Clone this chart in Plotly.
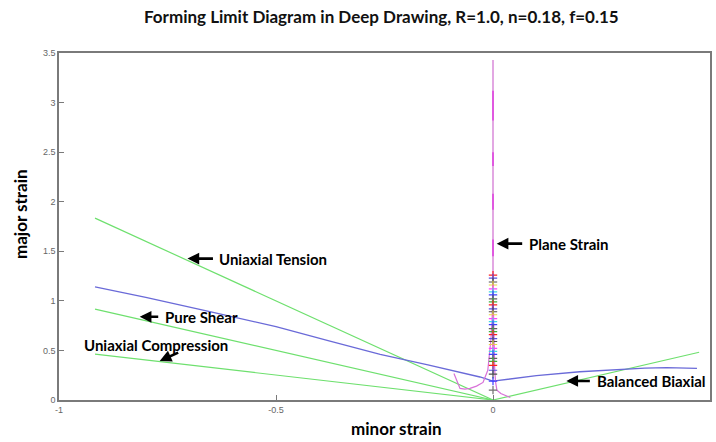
import plotly.graph_objects as go

# ---- data ----
ut_x = [-0.917, 0.0]          # uniaxial tension path
ut_y = [1.834, 0.0]
ps_x = [-0.917, 0.0]          # pure shear path
ps_y = [0.917, 0.0]
uc_x = [-0.917, 0.0]          # uniaxial compression path
uc_y = [0.462, 0.0]
bb_x = [0.0, 0.475]           # balanced biaxial path
bb_y = [0.0, 0.482]

fld_x = [-0.917, -0.80, -0.65, -0.50, -0.38, -0.26, -0.15, -0.06, -0.03, 0.0,
         0.05, 0.10, 0.20, 0.29, 0.35, 0.40, 0.47]
fld_y = [1.140, 1.035, 0.890, 0.740, 0.600, 0.460, 0.355, 0.265, 0.232, 0.190,
         0.220, 0.245, 0.285, 0.310, 0.322, 0.327, 0.318]

pl_x = [-0.090, -0.082, -0.076, -0.065, -0.053, -0.038, -0.023, -0.012, -0.005, -0.002, 0.0, 0.0]
pl_y = [0.268, 0.180, 0.117, 0.110, 0.117, 0.140, 0.177, 0.300, 0.600, 0.810, 1.300, 3.430]
pr_x = [0.0, 0.002, 0.004, 0.006, 0.009, 0.018, 0.028, 0.040]
pr_y = [1.100, 0.600, 0.300, 0.180, 0.100, 0.065, 0.046, 0.025]
seg_y = [[2.82, 3.12], [2.36, 2.50], [1.92, 2.08], [1.45, 1.62]]

mark_y = [1.26, 1.23, 1.19, 1.16, 1.12, 1.09, 1.06, 1.02, 0.99, 0.96, 0.92, 0.89,
          0.86, 0.82, 0.79, 0.76, 0.72, 0.69, 0.66, 0.62, 0.59, 0.56, 0.52, 0.49,
          0.46, 0.42, 0.39, 0.35, 0.30, 0.26, 0.19, 0.10]
mark_c = ["#ff2020", "#5a50e0", "#505050", "#e8d840", "#ff40ff", "#40d8e0", "#4040ff",
          "#606060", "#40b040"]

labels = ["Uniaxial Tension", "Pure Shear", "Uniaxial Compression", "Plane Strain", "Balanced Biaxial"]
head_x = [-0.704, -0.814, -0.768, 0.0085, 0.169]
head_y = [1.426, 0.839, 0.394, 1.577, 0.192]
tail_dx = [27, 20, 20, 27, 25]
tail_dy = [0, 0, -9, 0, 0]
text_x = [-0.635, -0.761, -0.947, 0.078, 0.236]
text_y = [1.426, 0.839, 0.556, 1.577, 0.192]

xticks = [-1, -0.5, 0, 0.5]
yticks = [0, 0.5, 1, 1.5, 2, 2.5, 3, 3.5]

TITLE = "Forming Limit Diagram in Deep Drawing, R=1.0, n=0.18, f=0.15"

GREEN = "#6ee06e"
BLUE = "#6a6ad8"
PINK = "#e2a8e2"
MAG = "#e050e0"

fig = go.Figure()
for xs, ys in [(ut_x, ut_y), (ps_x, ps_y), (uc_x, uc_y), (bb_x, bb_y)]:
    fig.add_trace(go.Scatter(x=xs, y=ys, mode="lines", line=dict(color=GREEN, width=1.2)))
fig.add_trace(go.Scatter(x=fld_x, y=fld_y, mode="lines", line=dict(color=BLUE, width=1.3)))
fig.add_trace(go.Scatter(x=pl_x, y=pl_y, mode="lines", line=dict(color="#d870d8", width=1.2)))
fig.add_trace(go.Scatter(x=pr_x, y=pr_y, mode="lines", line=dict(color="#d870d8", width=1.2)))
sx, sy = [], []
for a, b in seg_y:
    sx += [0, 0, None]
    sy += [a, b, None]
fig.add_trace(go.Scatter(x=[0, 0], y=[1.2, 3.43], mode="lines", line=dict(color=PINK, width=1.6)))
fig.add_trace(go.Scatter(x=sx, y=sy, mode="lines", line=dict(color=MAG, width=1.8)))
cols = [mark_c[i % len(mark_c)] for i in range(len(mark_y))]
cols[-2] = "#4040ff"
cols[-1] = "#707070"
fig.add_trace(go.Scatter(x=[0] * len(mark_y), y=mark_y, mode="markers",
                         marker=dict(symbol="cross-thin", size=6, color=cols,
                                     line=dict(width=1.2, color=cols))))

BOLD = dict(family="Lato", color="black", weight="bold")
anns = []
for i, t in enumerate(labels):
    anns.append(dict(x=head_x[i], y=head_y[i], xref="x", yref="y", text="", showarrow=True,
                     ax=tail_dx[i], ay=tail_dy[i], arrowhead=2, arrowsize=0.9, arrowwidth=2.6,
                     arrowcolor="black", standoff=0, startstandoff=0))
    anns.append(dict(x=text_x[i], y=text_y[i], xref="x", yref="y", text=t, showarrow=False,
                     xanchor="left", yanchor="middle", font=dict(size=15, **BOLD)))
anns.append(dict(x=(398 - 59) / 653, y=0, xref="paper", yref="paper", yshift=-28, text="minor strain",
                 showarrow=False, xanchor="center", yanchor="middle", font=dict(size=17, **BOLD)))
anns.append(dict(x=0, y=0.536, xref="paper", yref="paper", xshift=-39, text="major strain",
                 textangle=-90, showarrow=False, xanchor="center", yanchor="middle",
                 font=dict(size=17, **BOLD)))
anns.append(dict(x=(382 - 59) / 653, y=1, xref="paper", yref="paper", yshift=53 - 16,
                 xanchor="center", yanchor="middle", text=TITLE, showarrow=False,
                 font=dict(family="Lato", size=17, color="#111111", weight="bold")))

axis_common = dict(showgrid=False, zeroline=False, showline=True, linecolor="#7a7a7a",
                   linewidth=1.6, mirror=True, ticks="inside", ticklen=5, tickwidth=1,
                   tickcolor="#7a7a7a", tickfont=dict(family="Liberation Sans", size=9, color="#666666"))
fig.update_layout(
    width=716, height=442, margin=dict(l=59, r=4, t=53, b=42),
    paper_bgcolor="white", plot_bgcolor="white", showlegend=False,
    xaxis=dict(range=[-1, 0.5], tickvals=xticks, ticktext=[str(v) for v in xticks], **axis_common),
    yaxis=dict(range=[0, 3.5], tickvals=yticks, ticktext=[str(v) for v in yticks], **axis_common),
    annotations=anns,
)
fig.write_html("out.html")
